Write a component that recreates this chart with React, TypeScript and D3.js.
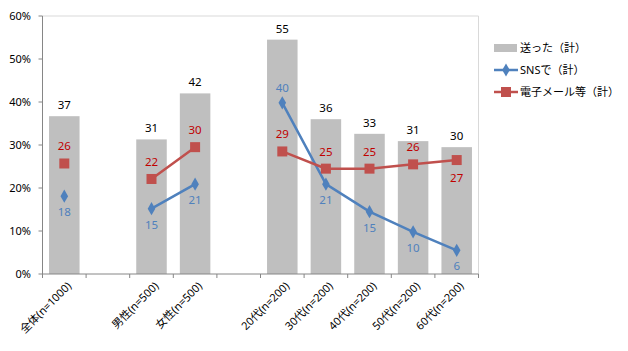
import React from "react";
import * as d3 from "d3";

const categories = [
  "全体(n=1000)",
  "",
  "男性(n=500)",
  "女性(n=500)",
  "",
  "20代(n=200)",
  "30代(n=200)",
  "40代(n=200)",
  "50代(n=200)",
  "60代(n=200)",
];

const sent = [36.7, null, 31.3, 42.0, null, 54.5, 36.0, 32.6, 30.9, 29.5];
const sns = [18.1, null, 15.2, 20.9, null, 39.8, 20.9, 14.5, 9.8, 5.5];
const mail = [25.7, null, 22.1, 29.5, null, 28.5, 24.5, 24.5, 25.5, 26.5];

const yTicks = [0, 10, 20, 30, 40, 50, 60];

const seriesNames = ["送った（計）", "SNSで（計）", "電子メール等（計）"];

const FONT = "'Noto Sans', 'Noto Sans CJK JP', sans-serif";
const GRAY = "#BFBFBF";
const BLUE = "#4F81BD";
const RED = "#C0504D";

export default function App() {
  const left = 42.5;
  const right = 478.5;
  const top = 16;
  const bottom = 274;

  const x = d3
    .scaleBand<number>()
    .domain(categories.map((_, i) => i))
    .range([left, right])
    .paddingInner(0.3)
    .paddingOuter(0.15);
  const step = x.step();
  const cx = (i: number) => (x(i) as number) + x.bandwidth() / 2;
  const y = d3.scaleLinear().domain([0, 60]).range([bottom, top]);

  const line = d3
    .line<number | null>()
    .defined((d) => d != null)
    .x((_, i) => cx(i))
    .y((d) => y(d as number));

  const diamond = d3.symbol().type(d3.symbolDiamond).size(50)() as string;

  // label above unless noted
  const snsAbove = [false, false, false, false, false, true, false, false, false, false];
  const mailAbove = [true, true, true, true, true, true, true, true, true, false];

  return (
    <svg width={628} height={351} style={{ position: "absolute", left: 0, top: 0, fontFamily: FONT }}>
      <rect width={628} height={351} fill="#fff" />
      {/* plot border */}
      <path d={`M${left},${top}H${right}V${bottom}`} fill="none" stroke="#D9D9D9" />

      {/* bars */}
      {sent.map((v, i) =>
        v == null ? null : (
          <g key={"b" + i}>
            <rect x={x(i)} y={y(v)} width={x.bandwidth()} height={bottom - y(v)} fill={GRAY} />
            <text x={cx(i)} y={y(v) - 7} textAnchor="middle" fontSize={11.5} fill="#000">
              {Math.round(v)}
            </text>
          </g>
        )
      )}

      {/* y axis */}
      <line x1={left} x2={left} y1={top} y2={bottom} stroke="#868686" />
      {yTicks.map((t) => (
        <g key={"y" + t}>
          <line x1={left - 4} x2={left} y1={y(t)} y2={y(t)} stroke="#868686" />
          <text x={31} y={y(t)} dy="0.35em" textAnchor="end" fontSize={11} fill="#000">
            {t}%
          </text>
        </g>
      ))}

      {/* x axis */}
      <line x1={left} x2={right} y1={bottom} y2={bottom} stroke="#868686" />
      {d3.range(categories.length + 1).map((k) => (
        <line
          key={"xt" + k}
          x1={left + k * step}
          x2={left + k * step}
          y1={bottom}
          y2={bottom + 4}
          stroke="#868686"
        />
      ))}
      {categories.map((c, i) =>
        c ? (
          <text
            key={"xl" + i}
            transform={`translate(${cx(i) + 5},${bottom + 10}) rotate(-45)`}
            textAnchor="end"
            dy="0.35em"
            fontSize={11}
            fill="#000"
          >
            {c}
          </text>
        ) : null
      )}

      {/* SNS line */}
      <path d={line(sns) as string} fill="none" stroke={BLUE} strokeWidth={2.5} />
      {sns.map((v, i) =>
        v == null ? null : (
          <g key={"s" + i}>
            <path d={diamond} transform={`translate(${cx(i)},${y(v)})`} fill={BLUE} />
            <text
              x={cx(i)}
              y={snsAbove[i] ? y(v) - 11 : y(v) + 20}
              textAnchor="middle"
              fontSize={11.5}
              fill="#4F81BD"
            >
              {Math.round(v)}
            </text>
          </g>
        )
      )}

      {/* mail line */}
      <path d={line(mail) as string} fill="none" stroke={RED} strokeWidth={2.5} />
      {mail.map((v, i) =>
        v == null ? null : (
          <g key={"m" + i}>
            <rect x={cx(i) - 5} y={y(v) - 5} width={10} height={10} fill={RED} />
            <text
              x={cx(i)}
              y={mailAbove[i] ? y(v) - 13 : y(v) + 22}
              textAnchor="middle"
              fontSize={11.5}
              fill="#C00000"
            >
              {Math.round(v)}
            </text>
          </g>
        )
      )}

      {/* legend */}
      <g transform="translate(494,0)">
        <rect x={0} y={44} width={23} height={8} fill={GRAY} />
        <text x={26} y={48} dy="0.35em" fontSize={11} fill="#000">
          {seriesNames[0]}
        </text>
        <line x1={0} x2={24} y1={70} y2={70} stroke={BLUE} strokeWidth={2.5} />
        <path d={diamond} transform="translate(12,70)" fill={BLUE} />
        <text x={26} y={70} dy="0.35em" fontSize={11} fill="#000">
          {seriesNames[1]}
        </text>
        <line x1={0} x2={24} y1={92} y2={92} stroke={RED} strokeWidth={2.5} />
        <rect x={7} y={87} width={10} height={10} fill={RED} />
        <text x={26} y={92} dy="0.35em" fontSize={11} fill="#000">
          {seriesNames[2]}
        </text>
      </g>
    </svg>
  );
}
